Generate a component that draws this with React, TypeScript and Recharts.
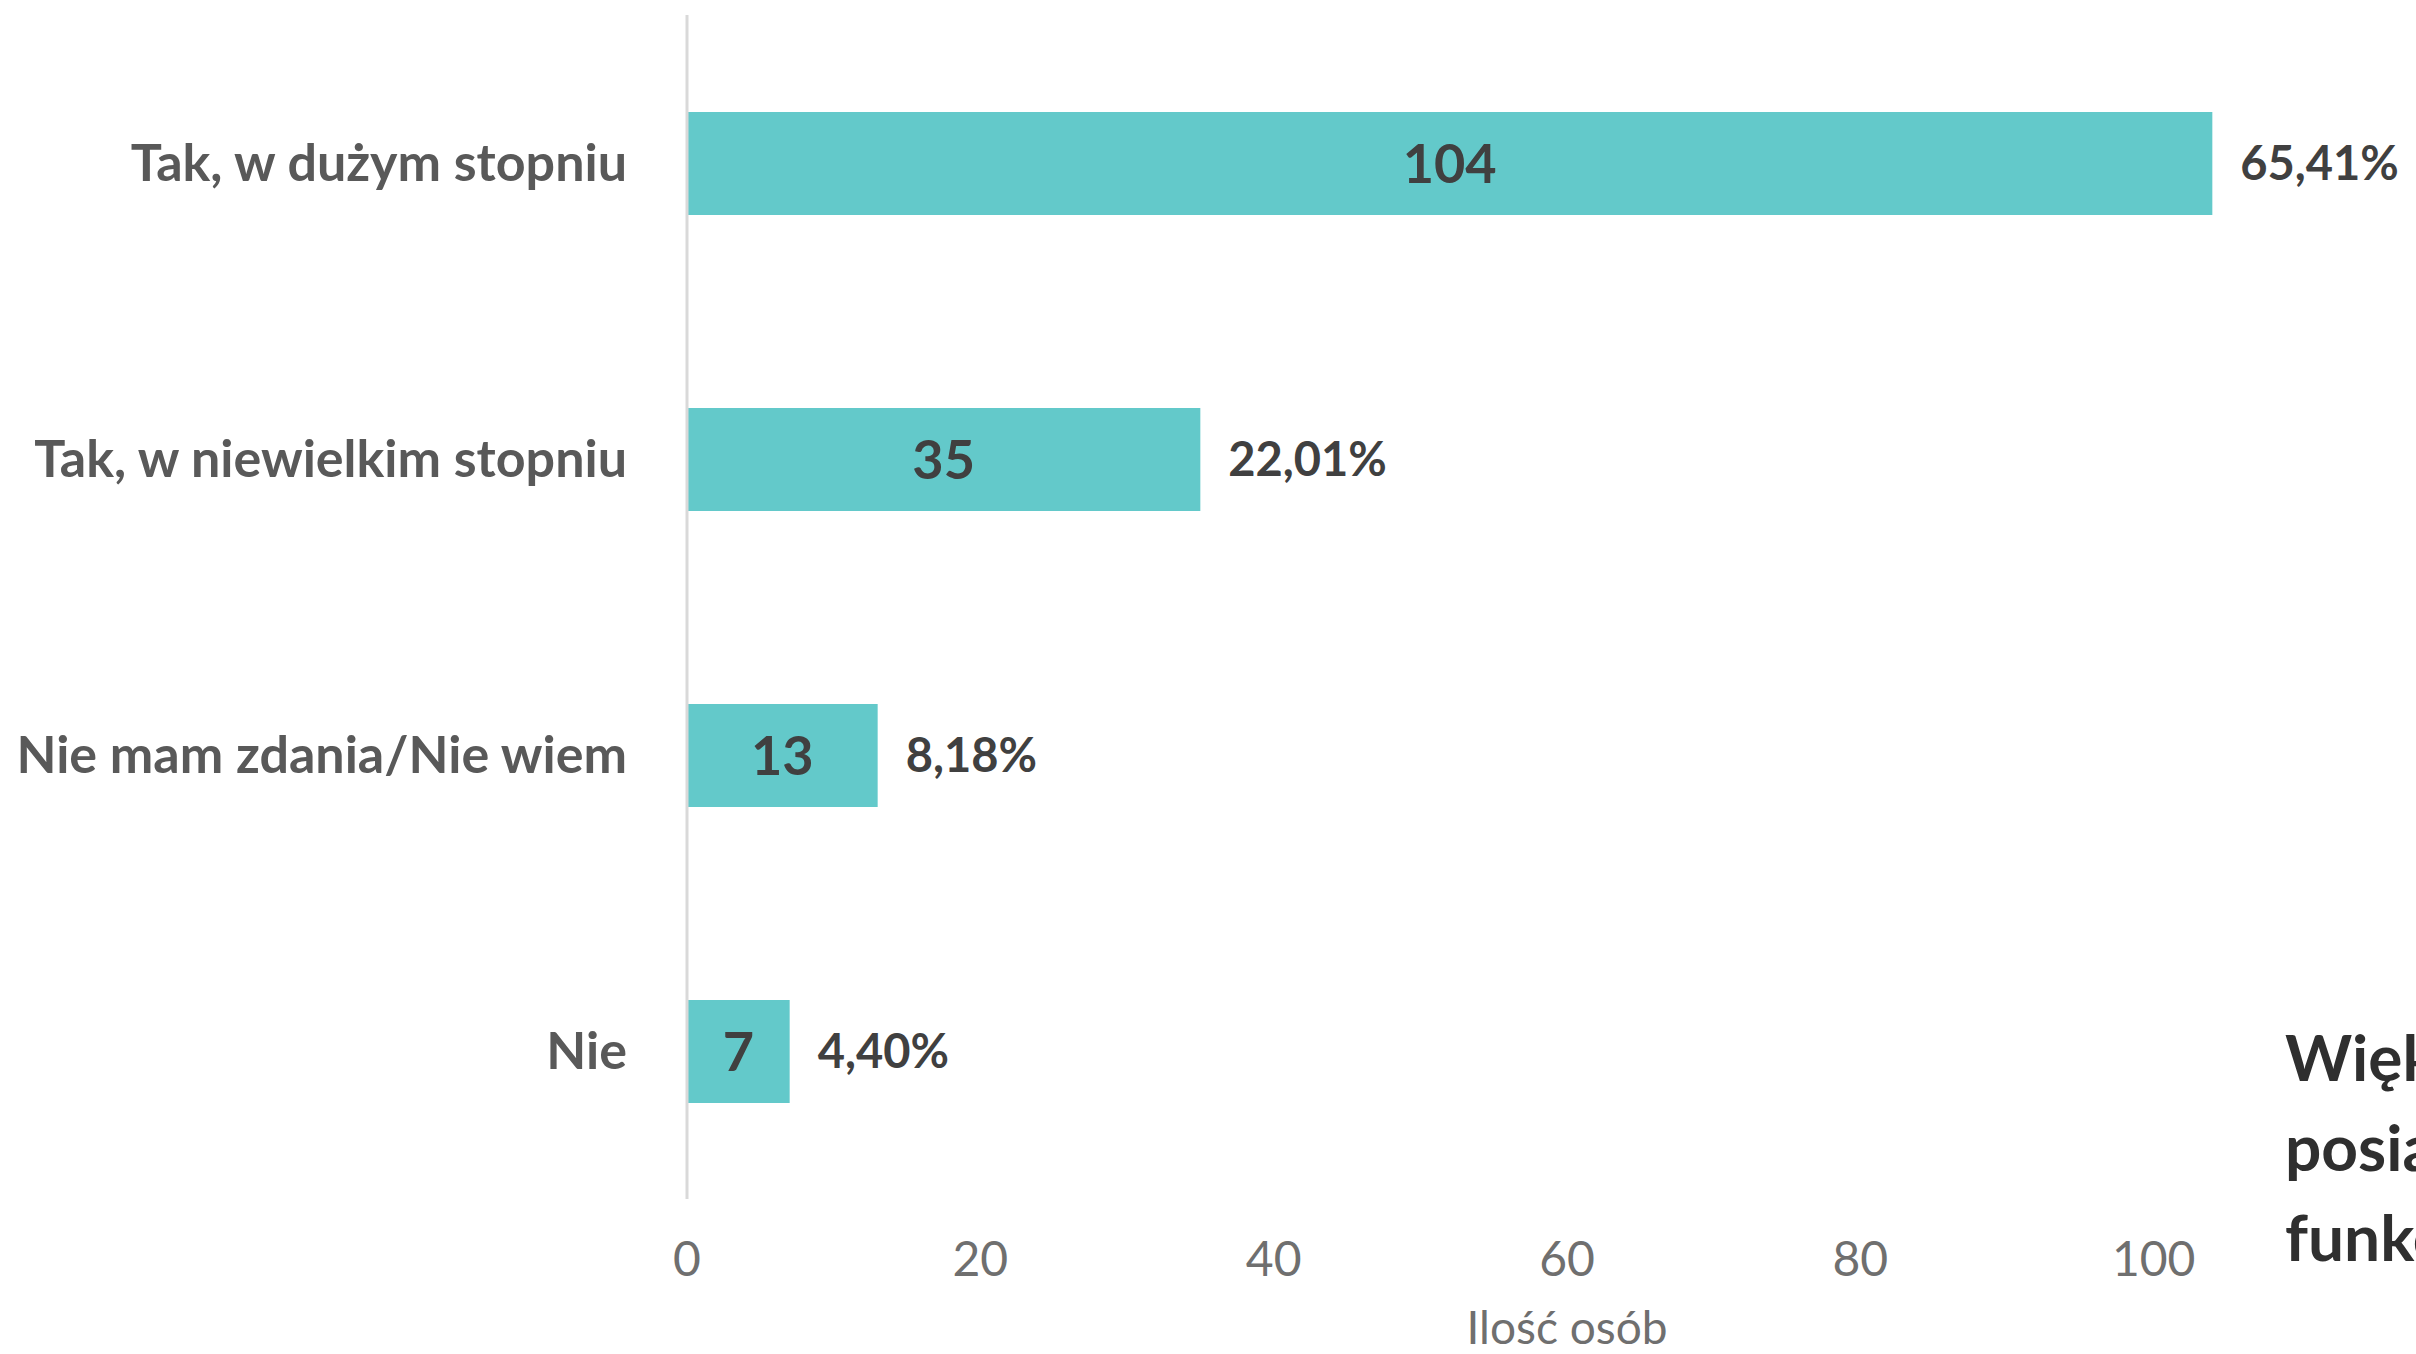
import { Bar, BarChart, LabelList, XAxis, YAxis } from "recharts";

const categories = ["Tak, w dużym stopniu", "Tak, w niewielkim stopniu", "Nie mam zdania/Nie wiem", "Nie"];
const counts = [104, 35, 13, 7];
const shares = ["65,41%", "22,01%", "8,18%", "4,40%"];
const xTicks = [0, 20, 40, 60, 80, 100];
const sideLines = ["Więk", "posia", "funkc"];

const data = categories.map((name, i) => ({ name, count: counts[i], share: shares[i] }));

const FONT = "Lato, 'Noto Sans', sans-serif";

export default function App() {
  return (
    <div
      style={{
        position: "fixed",
        left: 0,
        top: 0,
        width: 2416,
        height: 1354,
        overflow: "hidden",
        background: "#ffffff",
        fontFamily: FONT,
      }}
    >
      <BarChart
        width={2600}
        height={1354}
        data={data}
        layout="vertical"
        margin={{ top: 15, right: 153, bottom: 0, left: 0 }}
      >
        {/* axis runs to 120, only the visible ticks are labelled */}
        <XAxis
          type="number"
          domain={[0, 120]}
          ticks={xTicks}
          axisLine={false}
          tickLine={false}
          tickSize={0}
          tickMargin={43}
          height={155}
          tick={{ fontSize: 48, fill: "#6f6f6f", fontFamily: FONT }}
          label={{
            value: "Ilość osób",
            position: "insideBottom",
            offset: 10,
            fontSize: 46,
            fill: "#6f6f6f",
            fontFamily: FONT,
          }}
        />
        <YAxis
          type="category"
          dataKey="name"
          width={687}
          axisLine={{ stroke: "#d9d9d9", strokeWidth: 3 }}
          tickLine={false}
          tickSize={0}
          tickMargin={60}
          tick={{ fontSize: 52, fill: "#595959", fontWeight: 700, fontFamily: FONT }}
        />
        <Bar dataKey="count" fill="#63c9ca" barSize={103} isAnimationActive={false}>
          <LabelList
            dataKey="count"
            position="center"
            fill="#404040"
            fontSize={54}
            fontWeight={700}
            fontFamily={FONT}
          />
          <LabelList
            dataKey="share"
            position="right"
            offset={28}
            fill="#404040"
            fontSize={47}
            fontWeight={700}
            fontFamily={FONT}
          />
        </Bar>
      </BarChart>
      <div
        style={{
          position: "absolute",
          left: 2285,
          top: 1012,
          fontSize: 64,
          lineHeight: "90px",
          fontWeight: 700,
          color: "#2f2f2f",
          whiteSpace: "nowrap",
        }}
      >
        {sideLines.map((l) => (
          <div key={l}>{l}</div>
        ))}
      </div>
    </div>
  );
}
